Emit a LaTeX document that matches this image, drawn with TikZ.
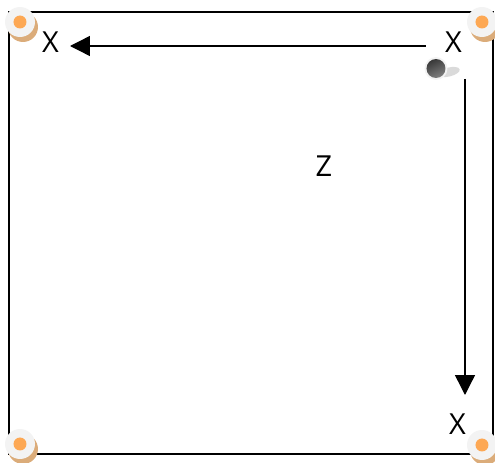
\documentclass[tikz,border=0pt]{standalone}
\usepackage{xcolor}
\usepackage{fontspec}
\setmainfont{Open Sans}
\usetikzlibrary{arrows.meta, positioning, calc}
\definecolor{mydisc}{RGB}{243,243,243}
\definecolor{mypot}{RGB}{253,168,84}
\definecolor{mytan}{RGB}{219,172,122}
\definecolor{myshade}{RGB}{218,218,218}
\tikzset{
  table/.style={draw=black, line width=1.1pt},
  letter/.style={font=\fontsize{16.5}{16.5}\selectfont, inner sep=0pt},
  arrow/.style={-{Triangle[length=0.4cm, width=0.4cm]}, line width=0.8pt}
}
\newcommand{\pocket}[2]{%
  \fill[mytan] (#1+3,#2+5) circle (15);
  \fill[mydisc] (#1,#2) circle (15);
  \fill[mypot] (#1,#2) circle (6.5);
}
\begin{document}
\begin{tikzpicture}[x=0.02cm, y=-0.02cm]
  \useasboundingbox (0,0) rectangle (495,463);

  % Table outline
  \draw[table] (9,12) rectangle (493,454);

  % Pockets
  \pocket{20}{22}
  \pocket{482}{22}
  \pocket{20}{444}
  \pocket{482}{445}

  % Ball and its shade
  \fill[myshade, rotate around={14:(449,72)}] (449,72) ellipse (11 and 4.5);
  \fill[mydisc] (436,68.5) circle (11.5);
  \shade[top color=black!78, bottom color=black!50, shading angle=25] (436,68.5) circle (9.5);

  % Labels
  \node[letter] (xleft) at (50.5,42) {X};
  \node[letter] (xright) at (453.5,42) {X};
  \node[letter] (xbottom) at (457.5,424) {X};
  \node[letter] (zlabel) at (324,166) {Z};

  % Shot directions
  \coordinate (topstart) at (426,46);
  \coordinate (topend) at (70,46);
  \coordinate (sidestart) at (465,79);
  \coordinate (sideend) at (465,395);
  \draw[arrow] (topstart) -- (topend);
  \draw[arrow] (sidestart) -- (sideend);
\end{tikzpicture}
\end{document}
